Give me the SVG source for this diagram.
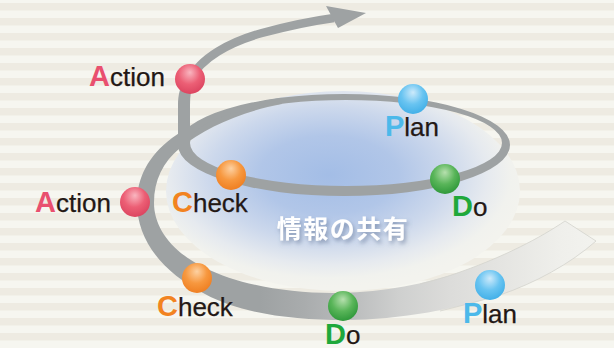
<svg xmlns="http://www.w3.org/2000/svg" width="614" height="348" viewBox="0 0 614 348">
  <defs>
    <pattern id="stripes" x="0" y="3" width="614" height="15" patternUnits="userSpaceOnUse">
      <rect x="0" y="0" width="614" height="7.5" fill="#eeebe2"/>
    </pattern>
    <radialGradient id="glow" cx="0.46" cy="0.42" r="0.56">
      <stop offset="0" stop-color="#a3bde6"/>
      <stop offset="0.35" stop-color="#b1c6e8"/>
      <stop offset="0.6" stop-color="#ccd8ec"/>
      <stop offset="0.8" stop-color="#e6eaef"/>
      <stop offset="0.92" stop-color="#f1f2ee"/>
      <stop offset="1" stop-color="#f3f3ee"/>
    </radialGradient>
    <linearGradient id="bandGrad" gradientUnits="userSpaceOnUse" x1="260" y1="0" x2="600" y2="0">
      <stop offset="0" stop-color="#9ea2a3"/>
      <stop offset="0.12" stop-color="#a8abac"/>
      <stop offset="0.24" stop-color="#b6b8b9"/>
      <stop offset="0.41" stop-color="#cfd0cf"/>
      <stop offset="0.56" stop-color="#dcdcda"/>
      <stop offset="0.7" stop-color="#e4e4e1"/>
      <stop offset="0.88" stop-color="#efefeb"/>
      <stop offset="1" stop-color="#f3f3ef"/>
    </linearGradient>
    <radialGradient id="ballRed" cx="0.45" cy="0.35" r="0.65" fx="0.5" fy="0.28">
      <stop offset="0" stop-color="#f9b6c0"/>
      <stop offset="0.55" stop-color="#ec5f75"/>
      <stop offset="1" stop-color="#dc4560"/>
    </radialGradient>
    <radialGradient id="ballOrange" cx="0.45" cy="0.35" r="0.65" fx="0.5" fy="0.28">
      <stop offset="0" stop-color="#fdd1a2"/>
      <stop offset="0.55" stop-color="#f7983f"/>
      <stop offset="1" stop-color="#ef7f22"/>
    </radialGradient>
    <radialGradient id="ballGreen" cx="0.45" cy="0.35" r="0.65" fx="0.5" fy="0.28">
      <stop offset="0" stop-color="#b6e0ae"/>
      <stop offset="0.55" stop-color="#59b559"/>
      <stop offset="1" stop-color="#30993b"/>
    </radialGradient>
    <radialGradient id="ballBlue" cx="0.45" cy="0.35" r="0.65" fx="0.5" fy="0.28">
      <stop offset="0" stop-color="#cdeafb"/>
      <stop offset="0.55" stop-color="#69c4f1"/>
      <stop offset="1" stop-color="#43b0e8"/>
    </radialGradient>
    <filter id="shadow" x="-20%" y="-40%" width="140%" height="180%">
      <feGaussianBlur in="SourceAlpha" stdDeviation="2.2"/>
      <feOffset dx="2" dy="3" result="b"/>
      <feFlood flood-color="#55688a" flood-opacity="0.55"/>
      <feComposite in2="b" operator="in"/>
      <feMerge><feMergeNode/><feMergeNode in="SourceGraphic"/></feMerge>
    </filter>
    <style>
      .lbl { font-family: "Liberation Sans", Arial, sans-serif; font-size: 26px; fill: #231815; stroke: #231815; stroke-width: 0.25; }
      .big { font-size: 29px; font-weight: bold; stroke: none; }
      .a { fill: #e9506f; }
      .c { fill: #f28321; }
      .d { fill: #1fa83b; }
      .p { fill: #4cb9ea; }
      .band { fill: #9ea2a3; }
    </style>
  </defs>

  <!-- background -->
  <rect x="0" y="0" width="614" height="348" fill="#f6f6f0"/>
  <rect x="0" y="0" width="614" height="348" fill="url(#stripes)"/>

  <!-- shared-information glow -->
  <ellipse cx="343" cy="191" rx="177" ry="100" fill="url(#glow)"/>

  <g id="connectors">
    <!-- lower loop band -->
    <path fill="url(#bandGrad)" d="M 280,98 C 240,104 200,118 172,138 C 148,156 137,178 137,203 C 137,240 162,272 205,294 C 240,313 290,320 345,320 C 400,320 460,308 500,295 C 535,283 570,264 596,241 L 565,221 C 540,238 505,256 463,271 C 425,284 385,292 340,293 C 290,294 240,285 205,268 C 172,252 154,228 154,203 C 154,180 163,162 180,148 C 205,128 240,112 282,104 Z"/>
    <path fill="none" stroke="#d3d3cd" stroke-width="0.8" d="M 420,284 C 440,279 452,275 463,271 C 505,256 540,238 565,221 L 596,241 C 570,264 535,283 500,295 C 480,301 460,306 440,311"/>
    <!-- upper loop ring -->
    <path class="band" fill-rule="evenodd" d="M 178,145 A 166,51 0 1,0 510,145 A 166,51 0 1,0 178,145 Z M 190,143 A 156,43 0 1,0 502,143 A 156,43 0 1,0 190,143 Z"/>
    <path class="band" d="M 178,148 L 178,105 C 178,95 180,86 186,78 L 194,80 C 191,88 190,96 190,105 L 190,148 Z"/>
    <!-- outgoing arrow -->
    <path fill="none" stroke="#9ea2a3" stroke-width="8.5" d="M 190,80 C 200,58 230,42 262,33 C 288,26 312,21 334,18"/>
    <polygon class="band" points="326,6 366,13 338,28"/>
  </g>

  <g id="info">
    <text x="343" y="238" text-anchor="middle" font-family="'Noto Sans CJK JP', 'Noto Sans CJK SC', sans-serif" font-size="25" font-weight="bold" letter-spacing="1.5" fill="#ffffff" filter="url(#shadow)">情報の共有</text>
  </g>

  <g id="action-top">
    <circle cx="190" cy="79" r="15" fill="url(#ballRed)"/>
    <text class="lbl" x="89" y="86"><tspan class="big a">A</tspan>ction</text>
  </g>
  <g id="plan-top">
    <circle cx="413" cy="99" r="15" fill="url(#ballBlue)"/>
    <text class="lbl" x="385" y="136"><tspan class="big p">P</tspan>lan</text>
  </g>
  <g id="do-top">
    <circle cx="445" cy="179" r="15" fill="url(#ballGreen)"/>
    <text class="lbl" x="452" y="216"><tspan class="big d">D</tspan>o</text>
  </g>
  <g id="check-top">
    <circle cx="231" cy="175" r="15" fill="url(#ballOrange)"/>
    <text class="lbl" x="172" y="212"><tspan class="big c">C</tspan>heck</text>
  </g>
  <g id="action-bottom">
    <circle cx="135" cy="202" r="15" fill="url(#ballRed)"/>
    <text class="lbl" x="35" y="212"><tspan class="big a">A</tspan>ction</text>
  </g>
  <g id="check-bottom">
    <circle cx="197" cy="278" r="15" fill="url(#ballOrange)"/>
    <text class="lbl" x="157" y="316"><tspan class="big c">C</tspan>heck</text>
  </g>
  <g id="do-bottom">
    <circle cx="343" cy="306" r="15" fill="url(#ballGreen)"/>
    <text class="lbl" x="325" y="344"><tspan class="big d">D</tspan>o</text>
  </g>
  <g id="plan-bottom">
    <circle cx="490" cy="285" r="15" fill="url(#ballBlue)"/>
    <text class="lbl" x="463" y="323"><tspan class="big p">P</tspan>lan</text>
  </g>
</svg>
